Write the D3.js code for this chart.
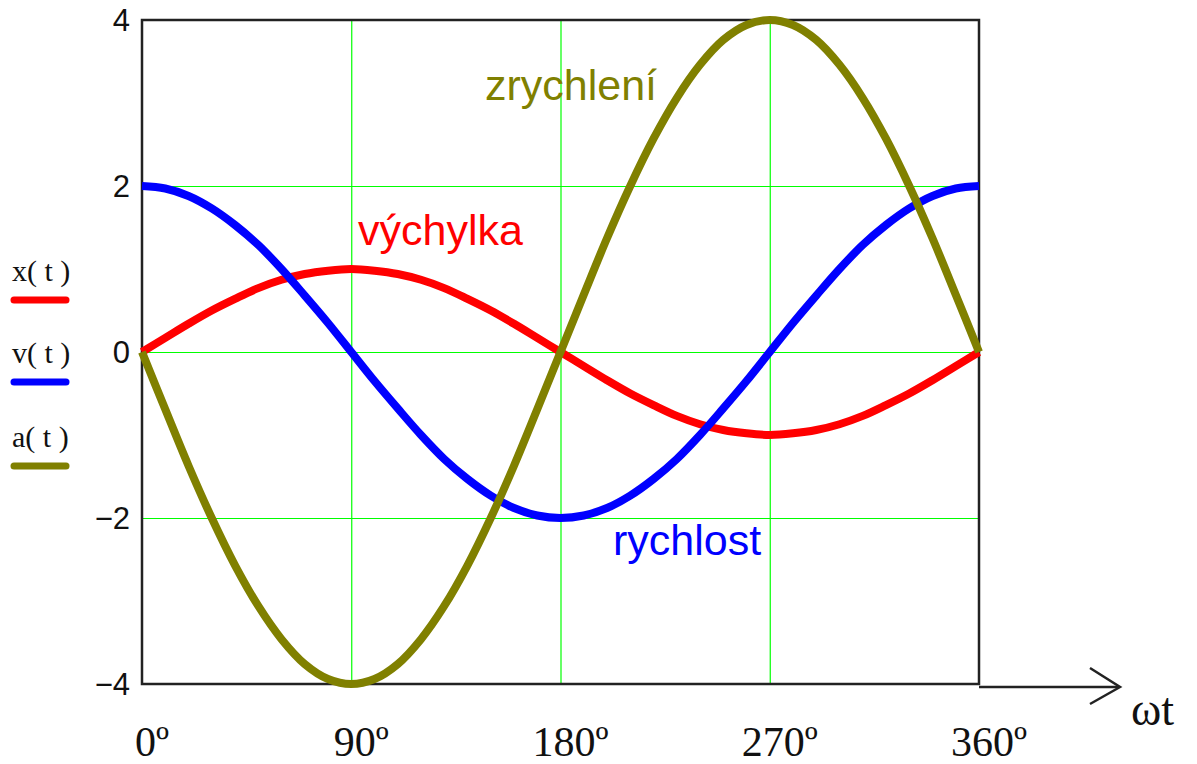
<!DOCTYPE html>
<html>
<head>
<meta charset="utf-8">
<script src="https://cdn.jsdelivr.net/npm/d3@7"></script>
<style>
  body { margin: 0; background: #fff; }
  svg { display: block; }
</style>
</head>
<body>
<script>
// angle of wt in degrees
var angles = [0, 10, 20, 30, 40, 50, 60, 70, 80, 90, 100, 110, 120, 130, 140, 150, 160, 170, 180,
    190, 200, 210, 220, 230, 240, 250, 260, 270, 280, 290, 300, 310, 320, 330, 340, 350, 360];

// vychylka x(t)
var xValues = [0, 0.17, 0.34, 0.50, 0.64, 0.77, 0.87, 0.94, 0.98, 1.00, 0.98, 0.94, 0.87, 0.77, 0.64, 0.50, 0.34, 0.17, 0,
    -0.17, -0.34, -0.50, -0.64, -0.77, -0.87, -0.94, -0.98, -1.00, -0.98, -0.94, -0.87, -0.77, -0.64, -0.50, -0.34, -0.17, 0];

// rychlost v(t)
var vValues = [2.00, 1.97, 1.88, 1.73, 1.53, 1.29, 1.00, 0.68, 0.35, 0, -0.35, -0.68, -1.00, -1.29, -1.53, -1.73, -1.88, -1.97, -2.00,
    -1.97, -1.88, -1.73, -1.53, -1.29, -1.00, -0.68, -0.35, 0, 0.35, 0.68, 1.00, 1.29, 1.53, 1.73, 1.88, 1.97, 2.00];

// zrychleni a(t)
var aValues = [0, -0.69, -1.37, -2.00, -2.57, -3.06, -3.46, -3.76, -3.94, -4.00, -3.94, -3.76, -3.46, -3.06, -2.57, -2.00, -1.37, -0.69, 0,
    0.69, 1.37, 2.00, 2.57, 3.06, 3.46, 3.76, 3.94, 4.00, 3.94, 3.76, 3.46, 3.06, 2.57, 2.00, 1.37, 0.69, 0];

var xTicks = [0, 90, 180, 270, 360];
var xTickLabels = ["0º", "90º", "180º", "270º", "360º"];
var yTicks = [-4, -2, 0, 2, 4];
var yTickLabels = ["\u22124", "\u22122", "0", "2", "4"];

var legendNames = ["x( t )", "v( t )", "a( t )"];
var curveNames = ["výchylka", "rychlost", "zrychlení"];
var colors = ["#ff0000", "#0000ff", "#808000"];

//set dimensions and margins
var margin = { top: 20, right: 218, bottom: 80, left: 142 },
    width = 1197 - margin.left - margin.right,
    height = 764 - margin.top - margin.bottom;

var x = d3.scaleLinear().domain([0, 360]).range([0, width]);
var y = d3.scaleLinear().domain([-4, 4]).range([height, 0]);

var svg = d3.select("body").append("svg")
    .attr("width", 1197)
    .attr("height", 764);

var g = svg.append("g")
    .attr("transform", "translate(" + margin.left + "," + margin.top + ")");

// green grid
g.append("g")
    .attr("class", "grid")
    .call(d3.axisBottom(x).tickValues([90, 180, 270]).tickSize(height).tickFormat(""))
    .call(function (s) { s.select(".domain").remove(); });
g.append("g")
    .attr("class", "grid")
    .call(d3.axisLeft(y).tickValues([-2, 0, 2]).tickSize(-width).tickFormat(""))
    .call(function (s) { s.select(".domain").remove(); });
g.selectAll(".grid line").attr("stroke", "#00ff00").attr("stroke-width", 1.2);

// frame
g.append("rect")
    .attr("width", width)
    .attr("height", height)
    .attr("fill", "none")
    .attr("stroke", "#222")
    .attr("stroke-width", 2.5);

// wt arrow
var arrowY = height + 3;
g.append("line")
    .attr("x1", width).attr("x2", width + 140)
    .attr("y1", arrowY).attr("y2", arrowY)
    .attr("stroke", "#222").attr("stroke-width", 2.5);
g.append("path")
    .attr("d", "M" + (width + 111) + "," + (arrowY - 19) + "L" + (width + 141) + "," + arrowY + "L" + (width + 111) + "," + (arrowY + 17))
    .attr("fill", "none")
    .attr("stroke", "#222").attr("stroke-width", 2.5);
g.append("text")
    .attr("x", width + 152)
    .attr("y", arrowY + 38)
    .attr("font-family", "Liberation Serif, serif")
    .attr("font-size", 46)
    .attr("fill", "#111")
    .text("ωt");

// tick labels
g.selectAll(".xlab")
    .data(xTicks)
    .enter()
    .append("text")
    .attr("class", "xlab")
    .attr("x", function (d) { return x(d) + 10; })
    .attr("y", height + 72)
    .attr("text-anchor", "middle")
    .attr("font-family", "Liberation Serif, serif")
    .attr("font-size", 42)
    .attr("fill", "#111")
    .text(function (d, i) { return xTickLabels[i]; });

g.selectAll(".ylab")
    .data(yTicks)
    .enter()
    .append("text")
    .attr("class", "ylab")
    .attr("x", -12)
    .attr("y", function (d) { return y(d) + 11; })
    .attr("text-anchor", "end")
    .attr("font-family", "Liberation Sans, Arial, sans-serif")
    .attr("font-size", 31)
    .attr("fill", "#111")
    .text(function (d, i) { return yTickLabels[i]; });

// curves
var series = [xValues, vValues, aValues];
var line = d3.line()
    .x(function (d, i) { return x(angles[i]); })
    .y(function (d) { return y(d); })
    .curve(d3.curveCatmullRom);

g.selectAll(".curve")
    .data(series)
    .enter()
    .append("path")
    .attr("class", "curve")
    .attr("d", line)
    .attr("fill", "none")
    .attr("stroke", function (d, i) { return colors[i]; })
    .attr("stroke-width", 8)
    .attr("stroke-linejoin", "round");

// curve names
var namePos = [[358, 245], [613, 555], [485, 100]];
svg.selectAll(".cname")
    .data(curveNames)
    .enter()
    .append("text")
    .attr("class", "cname")
    .attr("x", function (d, i) { return namePos[i][0]; })
    .attr("y", function (d, i) { return namePos[i][1]; })
    .attr("font-family", "Liberation Sans, Arial, sans-serif")
    .attr("font-size", 43)
    .attr("fill", function (d, i) { return colors[i]; })
    .text(function (d) { return d; });

// legend on the left
var legendY = [281, 363, 447];
var legend = svg.selectAll(".leg")
    .data(legendNames)
    .enter()
    .append("g")
    .attr("class", "leg")
    .attr("transform", function (d, i) { return "translate(12," + legendY[i] + ")"; });
legend.append("text")
    .attr("x", 0)
    .attr("y", 0)
    .attr("font-family", "Liberation Serif, serif")
    .attr("font-size", 30)
    .attr("fill", "#111")
    .text(function (d) { return d; });
legend.append("line")
    .attr("x1", 2).attr("x2", 54)
    .attr("y1", 19).attr("y2", 19)
    .attr("stroke", function (d, i) { return colors[i]; })
    .attr("stroke-width", 7)
    .attr("stroke-linecap", "round");
</script>
</body>
</html>
